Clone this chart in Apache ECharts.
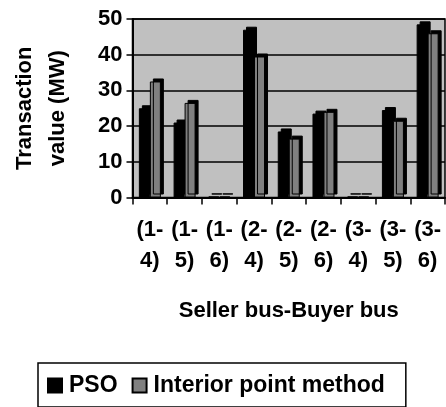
<!DOCTYPE html>
<html>
<head>
<meta charset="utf-8">
<script src="https://cdn.jsdelivr.net/npm/echarts@6/dist/echarts.min.js"></script>
<style>
html,body{margin:0;padding:0;background:#fff;}
#c{width:446px;height:407px;}
</style>
</head>
<body>
<div id="c"></div>
<script>
const categories = ['(1-\n4)', '(1-\n5)', '(1-\n6)', '(2-\n4)', '(2-\n5)', '(2-\n6)', '(3-\n4)', '(3-\n5)', '(3-\n6)'];
const psoValues = [25, 21, 0.3, 47, 18.5, 23.5, 0.3, 24.5, 48.5];
const ipmValues = [32.5, 26.5, 0.3, 39.5, 16.5, 24, 0.3, 21.5, 46];
const yTicks = [0, 10, 20, 30, 40, 50];

const FONT = 'Arial, "Liberation Sans", sans-serif';
const chart = echarts.init(document.getElementById('c'), null, {renderer: 'canvas'});
chart.setOption({
  animation: false,
  backgroundColor: '#fff',
  grid: {
    left: 132.5, right: 1, top: 19, bottom: 209.5,
    show: true, backgroundColor: '#c0c0c0', borderColor: '#000', borderWidth: 1.5
  },
  legend: {
    left: 38, top: 363,
    padding: [11, 21, 10, 9],
    itemWidth: 14, itemHeight: 14, itemGap: 14,
    borderColor: '#000', borderWidth: 1.5,
    icon: 'rect',
    itemStyle: {shadowBlur: 0, shadowOffsetX: 0, shadowOffsetY: 0, shadowColor: 'transparent'},
    textStyle: {fontFamily: FONT, fontSize: 23, fontWeight: 'bold', color: '#000', padding: [0, 0, 0, 2]},
    data: ['PSO', 'Interior point method']
  },
  xAxis: {
    type: 'category',
    data: categories,
    name: 'Seller bus-Buyer bus',
    nameLocation: 'middle',
    nameGap: 102,
    nameTextStyle: {fontFamily: FONT, fontSize: 22, fontWeight: 'bold', color: '#000', lineHeight: 22},
    axisLine: {lineStyle: {color: '#000', width: 2}},
    axisTick: {show: true, length: 7, lineStyle: {color: '#000', width: 1.5}},
    axisLabel: {interval: 0, fontFamily: FONT, fontSize: 22, fontWeight: 'bold', color: '#000', lineHeight: 31, margin: 17}
  },
  yAxis: {
    type: 'value',
    min: yTicks[0], max: yTicks[yTicks.length - 1], interval: yTicks[1] - yTicks[0],
    name: 'Transaction\nvalue (MW)',
    nameLocation: 'middle',
    nameRotate: 90,
    nameGap: 58,
    nameTextStyle: {fontFamily: FONT, fontSize: 22, fontWeight: 'bold', color: '#000', lineHeight: 33},
    axisLine: {show: true, lineStyle: {color: '#000', width: 2}},
    axisTick: {show: true, length: 6, lineStyle: {color: '#000', width: 1.5}},
    axisLabel: {fontFamily: FONT, fontSize: 22, fontWeight: 'bold', color: '#000', margin: 10},
    splitLine: {lineStyle: {color: '#000', width: 1.5}}
  },
  series: [
    {
      name: 'PSO', type: 'bar', data: psoValues,
      barWidth: 11, barGap: '0%',
      itemStyle: {color: '#000', borderColor: '#000', borderWidth: 1,
        shadowColor: '#000', shadowBlur: 0, shadowOffsetX: 3, shadowOffsetY: -3}
    },
    {
      name: 'Interior point method', type: 'bar', data: ipmValues,
      barWidth: 11, barGap: '0%',
      itemStyle: {color: '#808080', borderColor: '#000', borderWidth: 1,
        shadowColor: '#000', shadowBlur: 0, shadowOffsetX: 3, shadowOffsetY: -3}
    }
  ]
});
</script>
</body>
</html>
